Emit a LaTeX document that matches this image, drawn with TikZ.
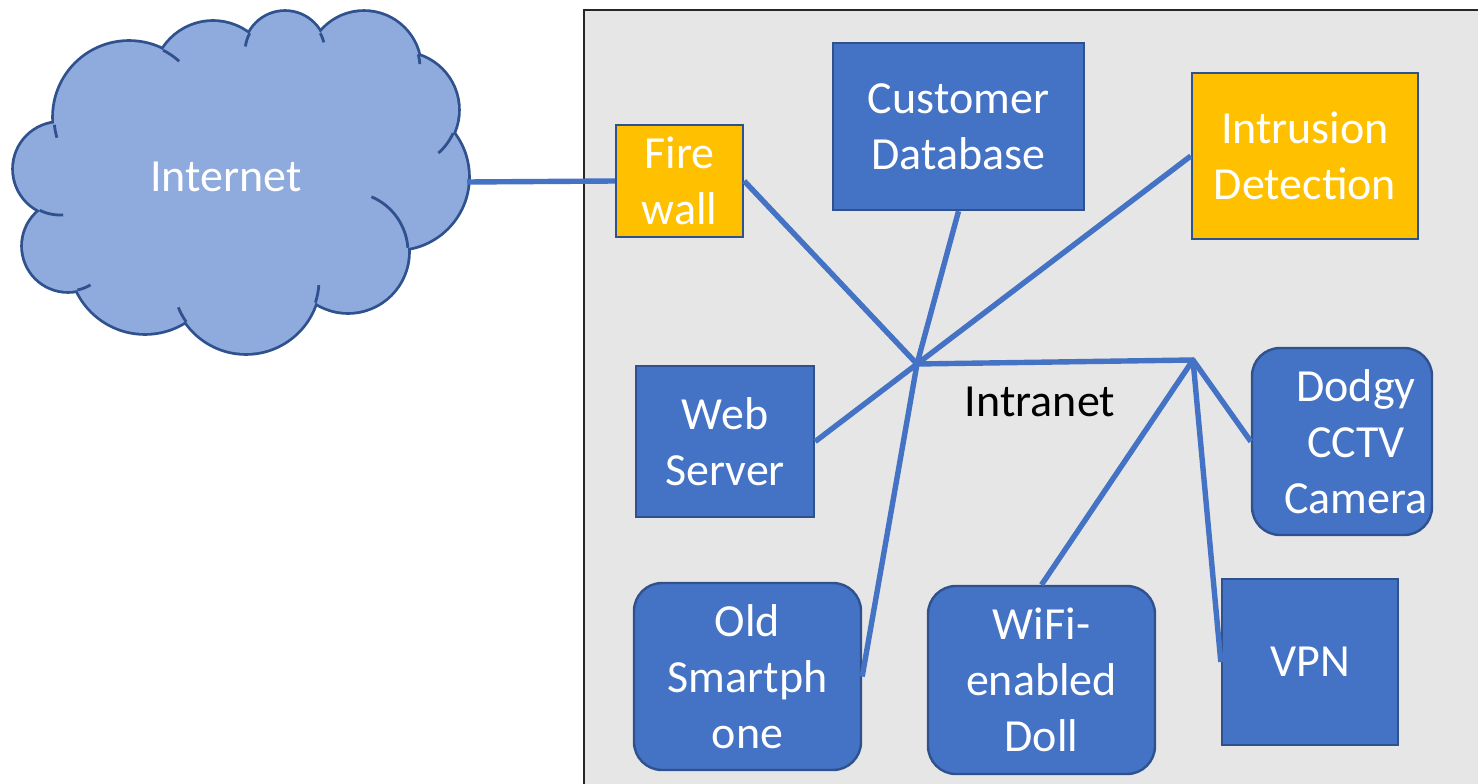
\documentclass[tikz,border=0pt]{standalone}
\usepackage{fontspec}
\setmainfont{Carlito}
\definecolor{boxblue}{HTML}{4472C4}
\definecolor{edgeblue}{HTML}{2F528F}
\definecolor{amber}{HTML}{FFC000}
\definecolor{cloudblue}{HTML}{8FAADC}
\definecolor{lan}{HTML}{E6E6E6}
% cloud puff: centre x, centre y, radius (in pixel units, y pointing down)
\newcommand\puffstroke[3]{\draw[draw=edgeblue, line width=5.6pt] (#1,#2) circle[radius=#3pt];}
\newcommand\pufffill[3]{\fill[cloudblue] (#1,#2) circle[radius=#3pt];}
% inner arc of a puff: centre x, centre y, radius, start angle, end angle
\newcommand\puffstub[5]{\draw[draw=edgeblue, line width=2.8pt]
  ([shift={(#1,#2)}]#4:#3) arc[start angle=-#4, end angle=-#5, radius=#3pt];}
\begin{document}
\begin{tikzpicture}[x=1pt, y=-1pt,
  label text/.style={font=\fontsize{46}{56}\selectfont, align=center},
  box/.style={label text, draw=edgeblue, line width=2.4pt, fill=boxblue,
    text=white, inner sep=0pt},
  warnbox/.style={box, fill=amber},
  roundbox/.style={box, rounded corners=28pt},
  link/.style={draw=boxblue, line width=5.4pt, line join=round}]
\useasboundingbox (0,0) rectangle (1478,784);
\clip (0,0) rectangle (1478,784);
\fill[white] (0,0) rectangle (1478,784);

% intranet area
\draw[fill=lan, draw=black!85, line width=2.6pt] (584,10) rectangle (1520,820);

% internet cloud: puffs stroked, then refilled so only the outer rim stays
\puffstroke{60}{169}{46}
\puffstroke{68}{246}{45}
\puffstroke{145}{258}{75}
\puffstroke{246}{280}{73}
\puffstroke{348}{252}{60}
\puffstroke{396}{177}{72}
\puffstroke{401}{110}{57}
\puffstroke{364}{68}{56}
\puffstroke{285}{52}{40}
\puffstroke{213}{81}{59}
\puffstroke{129}{117}{75}
\fill[cloudblue] (163,50) -- (250,33) -- (320,33) -- (418,55) -- (453,133)
  -- (408,248) -- (315,302) -- (186,322) -- (77,290) -- (40,211) -- (54,123) -- cycle;
\pufffill{60}{169}{46}
\pufffill{68}{246}{45}
\pufffill{145}{258}{75}
\pufffill{246}{280}{73}
\pufffill{348}{252}{60}
\pufffill{396}{177}{72}
\pufffill{401}{110}{57}
\pufffill{364}{68}{56}
\pufffill{285}{52}{40}
\pufffill{213}{81}{59}
\pufffill{129}{117}{75}
\puffstub{60}{169}{46}{116}{86}
\puffstub{68}{246}{45}{78}{60}
\puffstub{246}{280}{73}{145}{158}
\puffstub{246}{280}{73}{18}{4}
\puffstub{348}{252}{60}{-4}{-67}
\puffstub{401}{110}{57}{24}{49}
\puffstub{364}{68}{56}{-14}{-4}
\puffstub{285}{52}{40}{-28}{-14}
\puffstub{285}{52}{40}{208}{188}
\puffstub{129}{117}{75}{-63}{-48}
\puffstub{129}{117}{75}{174}{164}
\node[label text, text=white] (internet) at (226,177) {Internet};
\coordinate (cloudport) at (467,182);

% devices
\node[warnbox, minimum width=127pt, minimum height=112pt] (fw) at (679.5,181) {Fire\\wall};
\node[box, minimum width=251pt, minimum height=167pt] (db) at (958.5,126.5) {Customer\\Database};
\node[warnbox, minimum width=226pt, minimum height=166pt] (ids) at (1305,156) {Intrusion\\Detection};
\node[box, minimum width=178pt, minimum height=151pt] (web) at (725,441.5) {Web\\Server};
\node[roundbox, minimum width=180pt, minimum height=187pt] (cctv) at (1342,441.5)
  {\hspace*{28pt}Dodgy\\\hspace*{28pt}CCTV\\\hspace*{28pt}Camera};
\node[roundbox, minimum width=227pt, minimum height=187pt] (phone) at (747.5,676.5) {Old\\Smartph\\one};
\node[roundbox, minimum width=227pt, minimum height=188pt] (doll) at (1041.5,680) {WiFi-\\enabled\\Doll};
\node[box, minimum width=176pt, minimum height=166pt] (vpn) at (1310,662) {VPN};
\node[label text, text=black] (lanlabel) at (1040,402) {Intranet};

% network links
\coordinate (hubA) at (917,364);
\coordinate (hubB) at (1193,360);
\draw[link] (cloudport) -- (fw.west);
\draw[link] (fw.east) -- (hubA) -- (web.east);
\draw[link] (db.south) -- (hubA) -- (phone.east);
\draw[link] (ids.west) -- (hubA) -- (hubB) -- (vpn.west);
\draw[link] (doll.north) -- (hubB) -- (cctv.west);
\end{tikzpicture}
\end{document}
